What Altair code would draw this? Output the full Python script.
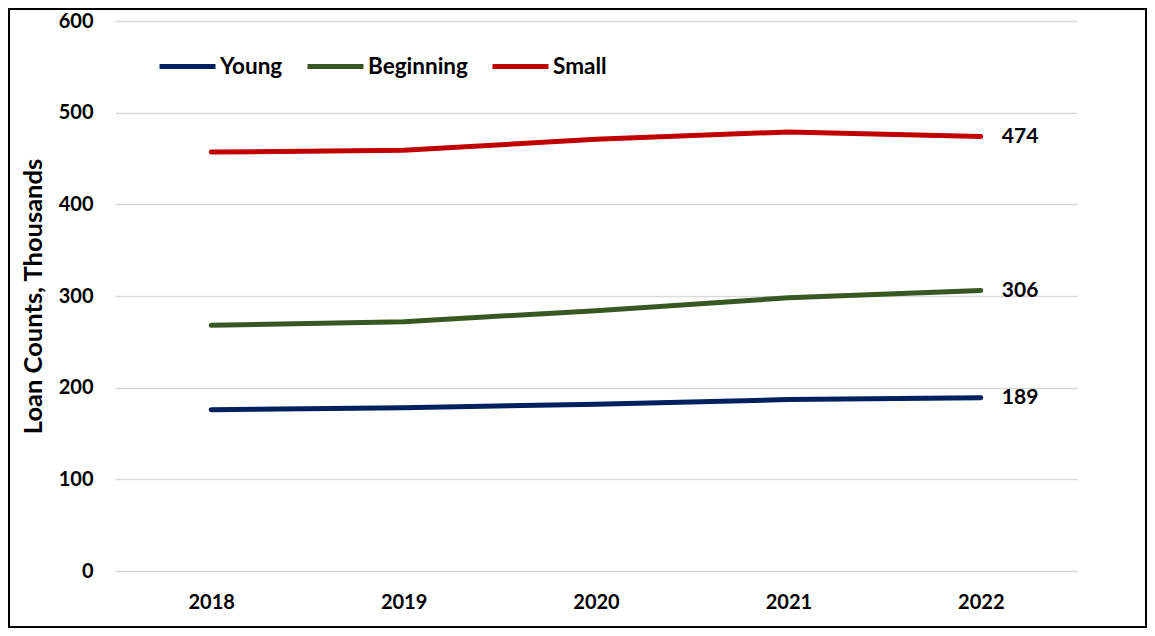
import altair as alt
import pandas as pd

years = ["2018", "2019", "2020", "2021", "2022"]
series = ["Young", "Beginning", "Small"]
young = [176, 178, 182, 187, 189]
beginning = [268, 272, 284, 298, 306]
small = [457, 459, 471, 479, 474]
colors = ["#002060", "#385723", "#C00000"]

rows = []
for name, vals in zip(series, [young, beginning, small]):
    for y, v in zip(years, vals):
        rows.append({"Year": y, "Series": name, "Value": v})
df = pd.DataFrame(rows)

FONT = "Lato"
W, H = 962, 550
PAD = {"left": 107, "top": 13, "right": 70, "bottom": 57}

x_enc = alt.X("Year:N", sort=years,
              scale=alt.Scale(type="point", padding=0.5),
              axis=alt.Axis(title=None, labelAngle=0, labelFont=FONT, labelFontSize=20,
                            labelFontWeight="bold", labelColor="#000000", labelPadding=21,
                            domain=False, ticks=False, grid=False))
y_enc = alt.Y("Value:Q",
              scale=alt.Scale(domain=[0, 600], nice=False),
              axis=alt.Axis(title="Loan Counts, Thousands", values=[0, 100, 200, 300, 400, 500, 600],
                            labelFont=FONT, labelFontSize=20, labelFontWeight="bold",
                            labelColor="#000000", labelPadding=22,
                            titleFont=FONT, titleFontSize=25.5, titleFontWeight="bold",
                            titleColor="#000000", titlePadding=12,
                            domain=False, ticks=False, grid=True,
                            gridColor="#d9d9d9", gridWidth=1.5))
color_enc = alt.Color("Series:N",
                      scale=alt.Scale(domain=series, range=colors),
                      legend=alt.Legend(title=None, orient="none", legendX=42, legendY=15,
                                        direction="horizontal", symbolType="stroke",
                                        symbolSize=3136, symbolStrokeWidth=5,
                                        labelFont=FONT, labelFontSize=22.5, labelFontWeight="bold",
                                        labelColor="#000000", labelOffset=2, columnPadding=14))

base = alt.Chart(df)
lines = base.mark_line(strokeWidth=5, strokeCap="round", strokeJoin="round").encode(
    x=x_enc, y=y_enc, color=color_enc, order=alt.Order("Year:N"))

labels = base.transform_filter(alt.datum.Year == "2022").mark_text(
    align="left", baseline="middle", dx=21, font=FONT, fontSize=21,
    fontWeight="bold", color="#000000").encode(
    x=alt.X("Year:N", sort=years), y="Value:Q", text="Value:Q")

frame = alt.Chart(pd.DataFrame({"a": [0]})).mark_rect(
    filled=False, stroke="#000000", strokeWidth=2).encode(
    x=alt.value(-106), x2=alt.value(W + PAD["right"] - 1),
    y=alt.value(-PAD["top"] + 1), y2=alt.value(H + PAD["bottom"] - 1))

chart = alt.layer(lines, labels, frame).properties(
    width=W, height=H, padding=PAD,
    autosize=alt.AutoSizeParams(type="none"),
    background="#ffffff"
).configure_view(stroke=None)

chart.save("out.html", embed_options={"renderer": "svg", "actions": False})
